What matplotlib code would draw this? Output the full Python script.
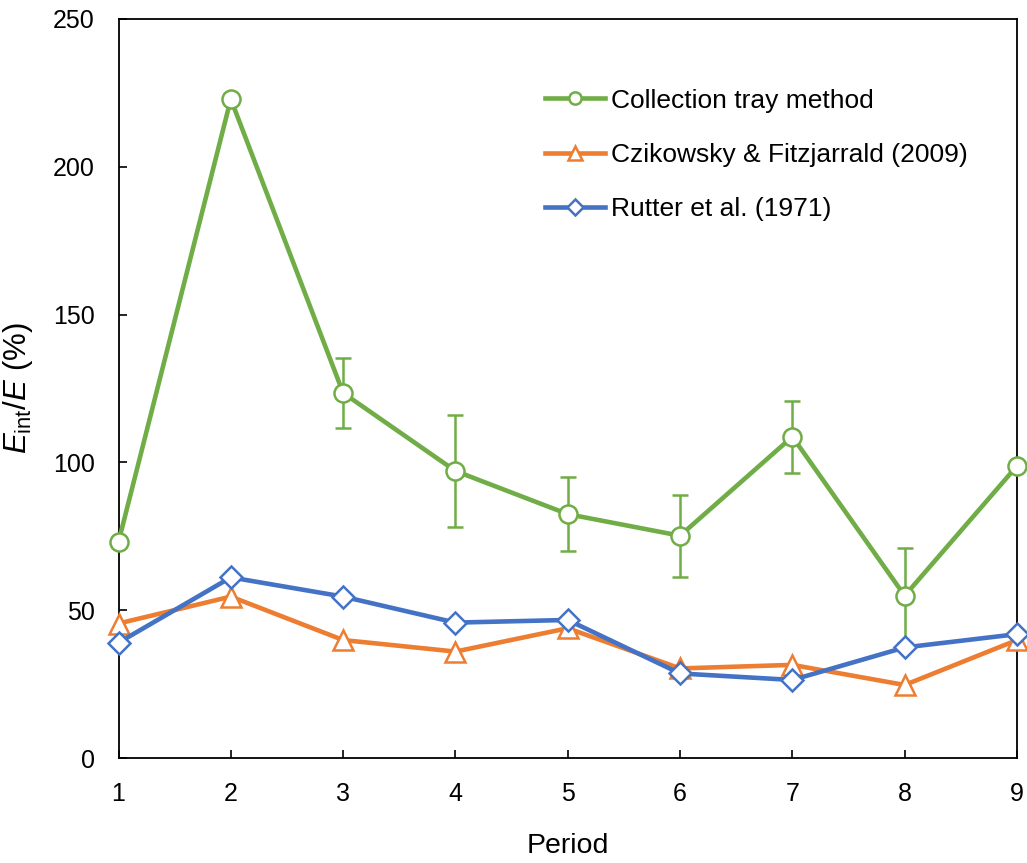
import numpy as np
import matplotlib
matplotlib.use('Agg')
import matplotlib.pyplot as plt

plt.rcParams['font.family'] = ['Liberation Sans', 'DejaVu Sans']
plt.rcParams['mathtext.fontset'] = 'custom'
plt.rcParams['mathtext.rm'] = 'Liberation Sans'
plt.rcParams['mathtext.it'] = 'Liberation Sans:italic'

# data
periods = [1, 2, 3, 4, 5, 6, 7, 8, 9]
tray = [73.1, 222.9, 123.5, 97.1, 82.5, 75.2, 108.7, 54.9, 98.8]
tray_err = [0, 0, 11.7, 19.0, 12.4, 13.9, 12.2, 16.0, 0]
czikowsky = [45.5, 54.6, 39.9, 36.0, 43.9, 30.3, 31.5, 24.7, 39.9]
rutter = [39.0, 61.1, 54.6, 45.8, 46.7, 28.6, 26.4, 37.4, 41.9]

green = '#70AD47'
orange = '#ED7D31'
blue = '#4472C4'

fig = plt.figure(figsize=(10.27, 8.63), dpi=100)
ax = fig.add_axes([118.5 / 1027, 1 - 758 / 863, (1017 - 118.5) / 1027, (758 - 19) / 863])

# error bars for the collection tray method
err_x = [p for p, e in zip(periods, tray_err) if e > 0]
err_y = [t for t, e in zip(tray, tray_err) if e > 0]
err_e = [e for e in tray_err if e > 0]
ax.errorbar(err_x, err_y, yerr=err_e, fmt='none', ecolor=green, elinewidth=1.8,
            capsize=5.5, capthick=1.8, zorder=2, clip_on=False)

ax.plot(periods, tray, color=green, lw=3.3, marker='o', ms=13, mfc='white', mec=green,
        mew=1.8, label='Collection tray method', zorder=3, clip_on=False)
ax.plot(periods, czikowsky, color=orange, lw=3.3, marker='^', ms=15, mfc='white', mec=orange,
        mew=1.8, label='Czikowsky & Fitzjarrald (2009)', zorder=4, clip_on=False)
ax.plot(periods, rutter, color=blue, lw=3.3, marker='D', ms=11.5, mfc='white', mec=blue,
        mew=1.8, label='Rutter et al. (1971)', zorder=5, clip_on=False)

ax.set_xlim(1, 9)
ax.set_ylim(0, 250)
ax.set_xticks(periods)
ax.set_yticks([0, 50, 100, 150, 200, 250])
ax.tick_params(axis='both', direction='in', length=6, width=1.2, labelsize=18, pad=17)
for s in ax.spines.values():
    s.set_linewidth(1.3)

ax.set_xlabel('Period', fontsize=20.5, labelpad=20)
ax.set_ylabel(r'$E_{\mathrm{int}}/E$ (%)', fontsize=22.5, labelpad=13)

ax.legend(loc='upper left', bbox_to_anchor=(0.448, 0.938), frameon=False, fontsize=19,
          handlelength=2.3, handletextpad=0.2, labelspacing=1.15, markerscale=0.68)

fig.savefig('out.png', dpi=100)
